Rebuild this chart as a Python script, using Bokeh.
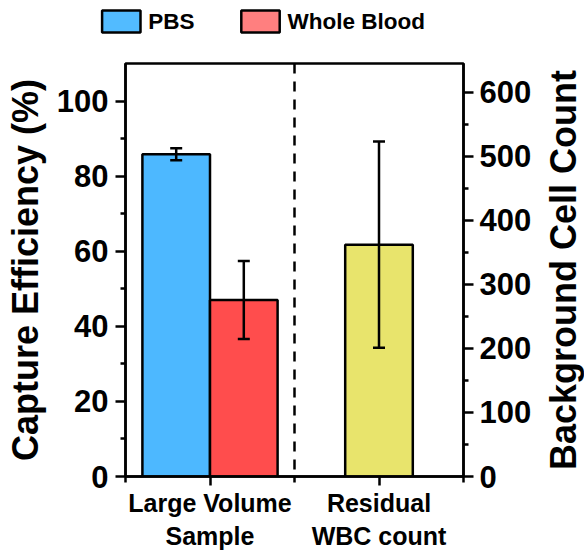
from bokeh.plotting import figure
from bokeh.layouts import row, column
from bokeh.models import (Range1d, LinearAxis, FixedTicker, Whisker, TeeHead,
                          ColumnDataSource, Span)
from bokeh.core.properties import value
from bokeh.embed import file_html
from bokeh.resources import INLINE

# ---- data ----
groups = ["Large Volume\nSample", "Residual\nWBC count"]
series = ["PBS", "Whole Blood"]
capture_mean = [85.8, 47.0]      # % (PBS, Whole Blood) in group 1
capture_err = [1.6, 10.4]
wbc_mean = [362.0]               # background cell count, group 2
wbc_err = [161.0]
left_ticks = [0, 20, 40, 60, 80, 100]
right_ticks = [0, 100, 200, 300, 400, 500, 600]
left_title = "Capture Efficiency (%)"
right_title = "Background Cell Count"

FONT = "Liberation Sans"
BLUE = "#4DB8FF"
RED = "#FF4D4D"
YELLOW = "#E8E46C"
LEG_COLORS = ["#52BBFF", "#FF7F7F"]

LEG_H = 47
LW = 2.5

p = figure(frame_width=338, frame_height=413, x_range=Range1d(0.5, 2.5),
           y_range=Range1d(0, 110), output_backend="svg", toolbar_location=None,
           min_border_left=125, min_border_top=63 - LEG_H, min_border_right=72,
           min_border_bottom=75)
p.extra_y_ranges = {"right": Range1d(0, 645)}
p.grid.visible = False
p.outline_line_color = "black"
p.outline_line_width = LW
p.background_fill_color = "white"
p.border_fill_color = "white"

# capture efficiency bars (group 1), dodged
bw = 0.4
xs = [1 - bw / 2, 1 + bw / 2]
src = ColumnDataSource(dict(
    x=xs, top=capture_mean,
    upper=[m + e for m, e in zip(capture_mean, capture_err)],
    lower=[m - e for m, e in zip(capture_mean, capture_err)],
    color=[BLUE, RED]))
p.vbar(x="x", top="top", width=bw, fill_color="color", line_color="black",
       line_width=LW, source=src)
p.add_layout(Whisker(base="x", upper="upper", lower="lower", source=src,
                     level="overlay", line_width=LW, line_color="black",
                     upper_head=TeeHead(size=12, line_width=LW),
                     lower_head=TeeHead(size=12, line_width=LW)))

# background cell count (group 2) on right axis
src2 = ColumnDataSource(dict(
    x=[2.0], top=wbc_mean,
    upper=[m + e for m, e in zip(wbc_mean, wbc_err)],
    lower=[m - e for m, e in zip(wbc_mean, wbc_err)]))
p.vbar(x="x", top="top", width=bw, fill_color=YELLOW, line_color="black",
       line_width=LW, source=src2, y_range_name="right")
p.add_layout(Whisker(base="x", upper="upper", lower="lower", source=src2,
                     y_range_name="right", level="overlay",
                     line_width=LW, line_color="black",
                     upper_head=TeeHead(size=12, line_width=LW),
                     lower_head=TeeHead(size=12, line_width=LW)))

# dashed separator
p.add_layout(Span(location=1.5, dimension="height", line_color="black",
                  line_width=LW, line_dash="10 8"))

# axes styling
def style(ax):
    ax.axis_line_width = LW
    ax.major_tick_line_width = LW
    ax.minor_tick_line_width = LW
    ax.major_tick_in = 0
    ax.minor_tick_in = 0
    ax.major_tick_out = 10
    ax.minor_tick_out = 5
    ax.major_label_text_font = FONT
    ax.major_label_text_font_style = "bold"
    ax.major_label_text_color = "black"
    ax.axis_label_text_font = FONT
    ax.axis_label_text_font_style = "bold"
    ax.axis_label_text_color = "black"

yl = p.yaxis[0]
yl.ticker = FixedTicker(ticks=left_ticks, minor_ticks=[10, 30, 50, 70, 90])
yl.axis_label = left_title
style(yl)
yl.major_label_text_font_size = "31px"
yl.axis_label_text_font_size = "36px"
yl.major_label_standoff = 7
yl.axis_label_standoff = 8

yr = LinearAxis(y_range_name="right")
yr.ticker = FixedTicker(ticks=right_ticks,
                        minor_ticks=[50, 150, 250, 350, 450, 550])
style(yr)
yr.major_label_text_font_size = "31px"
yr.major_label_standoff = 6
p.add_layout(yr, "right")

xa = p.xaxis[0]
xa.ticker = FixedTicker(ticks=[1, 2], minor_ticks=[0.5, 1.5, 2.5])
xa.major_label_overrides = {1: groups[0], 2: groups[1]}
style(xa)
xa.major_tick_out = 9
xa.minor_tick_out = 6
xa.major_label_text_font_size = "25px"
xa.major_label_standoff = 3

# right-hand title (reads bottom-to-top) as a label-only axis
f2 = figure(width=49, frame_height=413, x_range=Range1d(0, 1),
            y_range=Range1d(0, 1), output_backend="svg", toolbar_location=None,
            min_border_left=48, min_border_right=0, min_border_top=49 - LEG_H,
            min_border_bottom=89, x_axis_type=None)
f2.grid.visible = False
f2.outline_line_color = None
ya2 = f2.yaxis[0]
ya2.ticker = FixedTicker(ticks=[])
ya2.axis_line_color = None
ya2.major_tick_out = 0
ya2.minor_tick_out = 0
ya2.major_label_standoff = 0
ya2.axis_label = right_title
ya2.axis_label_text_font = FONT
ya2.axis_label_text_font_style = "bold"
ya2.axis_label_text_font_size = "36px"
ya2.axis_label_text_color = "black"
ya2.axis_label_standoff = 0

# legend strip on top (pixel-like coordinates, y downwards)
lf = figure(frame_width=584, frame_height=LEG_H, x_range=Range1d(0, 584),
            y_range=Range1d(LEG_H, 0), output_backend="svg",
            toolbar_location=None, min_border_left=0, min_border_right=0,
            min_border_top=0, min_border_bottom=0,
            x_axis_type=None, y_axis_type=None)
lf.grid.visible = False
lf.outline_line_color = None
leg_x = [120.8, 260.0]           # swatch centres (layout)
leg_src = ColumnDataSource(dict(x=leg_x, y=[21, 21], color=LEG_COLORS,
                                tx=[x + 27 for x in leg_x], label=series))
lf.rect(x="x", y="y", width=38.4, height=22, fill_color="color",
        line_color="black", line_width=LW, source=leg_src)
lf.text(x="tx", y="y", text="label", text_font=value(FONT),
        text_font_style="bold", text_font_size="22.5px", text_color="black",
        text_baseline="middle", text_align="left", source=leg_src)

layout = column(lf, row(p, f2, spacing=0), spacing=0)
open("out.html", "w").write(file_html(layout, INLINE))
